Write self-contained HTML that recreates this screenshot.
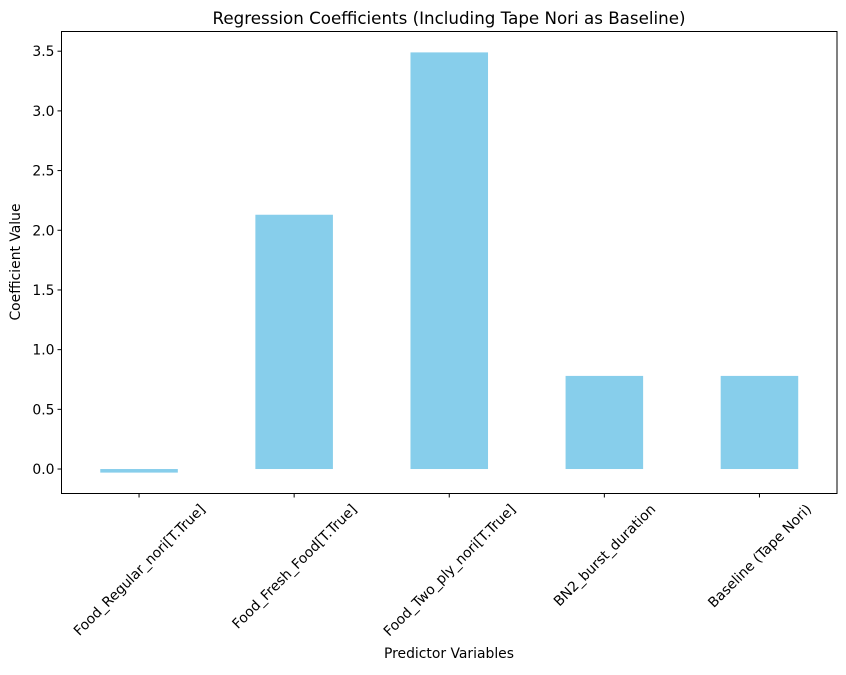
<!DOCTYPE html>
<html><head><meta charset="utf-8"><style>
body{margin:0;background:#fff;font-family:"Liberation Sans","DejaVu Sans",sans-serif;}
svg text{font-family:"DejaVu Sans","Liberation Sans",sans-serif;}
</style></head><body>
<svg id="chart" width="846" height="670" xmlns="http://www.w3.org/2000/svg">
<rect width="846" height="670" fill="#fff"/>
<text x="449" y="24" text-anchor="middle" font-size="16.7">Regression Coefficients (Including Tape Nori as Baseline)</text>
<g id="bars"></g><g id="axes"></g>
<text x="449" y="658" text-anchor="middle" font-size="13.9">Predictor Variables</text>
<text transform="translate(20,262) rotate(-90)" text-anchor="middle" font-size="13.9">Coefficient Value</text>
</svg>
<script>
const categories=["Food_Regular_nori[T.True]","Food_Fresh_Food[T.True]","Food_Two_ply_nori[T.True]","BN2_burst_duration","Baseline (Tape Nori)"];
const values=[-0.03,2.13,3.49,0.78,0.78];
const yTicks=[0.0,0.5,1.0,1.5,2.0,2.5,3.0,3.5];
const L=61.5,R=837,T=31.5,B=493.5,ymin=-0.205,ymax=3.665;
const ns="http://www.w3.org/2000/svg";
const y=v=>B-(v-ymin)/(ymax-ymin)*(B-T);
const band=(R-L)/categories.length;
const x=i=>L+band*(i+0.5);
const bars=document.getElementById('bars'),axes=document.getElementById('axes');
function mk(t,a,p){const e=document.createElementNS(ns,t);for(const k in a)e.setAttribute(k,a[k]);p.appendChild(e);return e;}
values.forEach((v,i)=>{
 const r=mk('rect',{x:x(i)-band*0.25,width:band*0.5,y:Math.min(y(v),y(0)),height:Math.abs(y(v)-y(0)),fill:'#87ceeb'},bars);
 
 
});
const fr=mk('rect',{x:L,y:T,width:R-L,height:B-T,fill:'none',stroke:'#000','stroke-width':1},axes);


yTicks.forEach(t=>{
 mk('line',{x1:L-4,x2:L,y1:y(t),y2:y(t),stroke:'#000'},axes);
 const tx=mk('text',{x:L-7,y:y(t)+5,'text-anchor':'end','font-size':13.9},axes);
 tx.textContent=t.toFixed(1);
 
 
});
categories.forEach((c,i)=>{
 mk('line',{x1:x(i),x2:x(i),y1:B,y2:B+4,stroke:'#000'},axes);
 const tx=mk('text',{'text-anchor':'middle','font-size':13.9},axes);
 tx.textContent=c;
 
 
 const w=tx.getComputedTextLength(),h=14;
 const bh=(w+h)/Math.SQRT2;
 const cy=B+8+bh/2;
 tx.setAttribute('transform',`translate(${x(i)},${cy}) rotate(-45) translate(0,5)`);
});
</script>
</body></html>
